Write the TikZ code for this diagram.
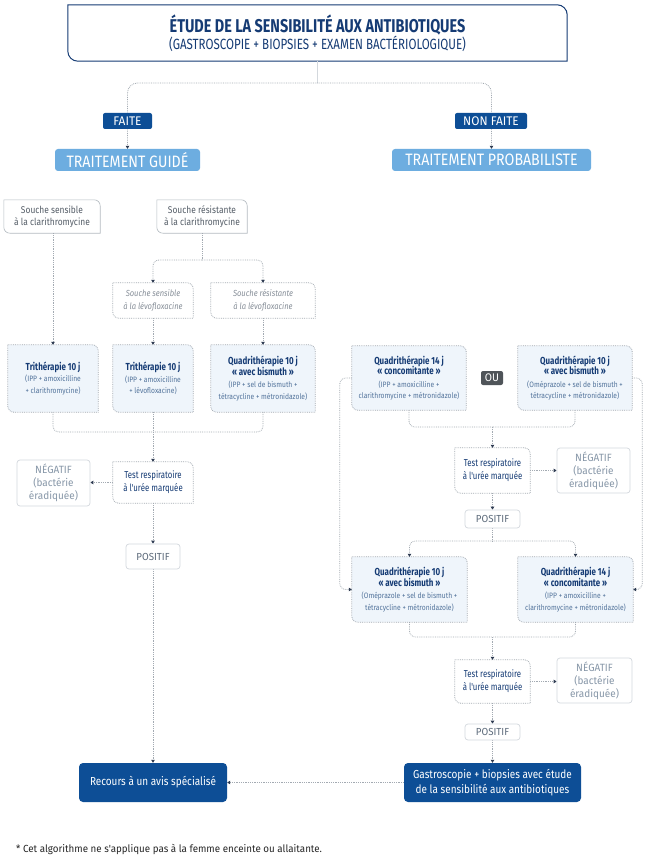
\documentclass[tikz,border=0pt]{standalone}
\usepackage{fontspec}
\setmainfont{Fira Sans}[FakeStretch=0.86]
\newfontfamily\condf{Fira Sans}[FakeStretch=0.78]
\newfontfamily\widef{Fira Sans}[FakeStretch=0.95]
\usetikzlibrary{arrows.meta,calc}
\definecolor{navy}{HTML}{0D4E96}
\definecolor{tblue}{HTML}{153B74}
\definecolor{lblue}{HTML}{6DADE0}
\definecolor{bfill}{HTML}{EFF5FB}
\definecolor{dotg}{HTML}{A3AAB2}
\definecolor{gtext}{HTML}{555E68}
\definecolor{itext}{HTML}{868E98}
\definecolor{dtext}{HTML}{52739B}
\definecolor{ntext}{HTML}{8797A8}
\definecolor{ptext}{HTML}{5D6B7B}
\definecolor{oug}{HTML}{4F5459}
\definecolor{arc}{HTML}{2E3B52}
\definecolor{lgb}{HTML}{D3D8DD}
\pgfdeclarelayer{bg}\pgfdeclarelayer{conn}\pgfsetlayers{bg,conn,main}
\newcommand\bx[7]{\node[#6,minimum width={#3-#2},minimum height={#5-#4}] (#1) at ({(#2+#3)/2},{-(#4+#5)/2}) {#7};}
\newcommand\leaf[3][6pt]{\begin{pgfonlayer}{bg}\path[#3] (#2.north west) -- ([xshift=-#1]#2.north east) arc[start angle=90,end angle=0,radius=#1] -- (#2.south east) -- ([xshift=#1]#2.south west) arc[start angle=270,end angle=180,radius=#1] -- cycle;\end{pgfonlayer}}
\newcommand\thd[1]{{\condf\fontsize{10.2}{11}\selectfont\bfseries\color{tblue}#1}}
\tikzset{
  tb/.style={inner sep=0pt,align=center},
  labbox/.style={tb,fill=navy,text=white,rounded corners=2pt,font=\widef\fontsize{12.5}{14}\selectfont},
  trbox/.style={tb,fill=lblue,text=white,rounded corners=3pt,font=\fontsize{16.5}{18}\selectfont},
  scbox/.style={tb,font=\fontsize{9.8}{11.5}\selectfont,text=gtext},
  slbox/.style={tb,font=\fontsize{8.8}{12.5}\selectfont\itshape,text=itext},
  trtbox/.style={tb,font=\fontsize{7.8}{11.5}\selectfont,text=dtext},
  tstbox/.style={tb,font=\condf\fontsize{10}{13}\selectfont,text=tblue},
  negbox/.style={tb,draw=lgb,line width=0.7pt,rounded corners=3pt,fill=white,text=ntext,font=\widef\fontsize{10.5}{13}\selectfont},
  posbox/.style={tb,draw=lgb,line width=0.7pt,rounded corners=3pt,fill=white,text=ptext,font=\widef\fontsize{10.2}{12}\selectfont},
  dkbox/.style={tb,fill=navy,text=white,rounded corners=4pt,font=\fontsize{11.6}{15}\selectfont},
  oubox/.style={tb,fill=oug,text=white,rounded corners=2pt,font=\widef\fontsize{11}{12}\selectfont},
  solidleaf/.style={draw=dotg!80,line width=0.6pt,fill=white},
  dotleaf/.style={draw=dotg,line width=0.8pt,densely dotted,fill=white},
  trtleaf/.style={draw=dotg,line width=0.8pt,densely dotted,fill=bfill},
  dline/.style={draw=dotg,line width=0.8pt,densely dotted,rounded corners=6pt},
  arline/.style={dline,-{Triangle[length=3pt,width=3.5pt,color=arc]}}
}
\begin{document}
\begin{tikzpicture}[x=1pt,y=1pt]
\useasboundingbox (0,0) rectangle (650,-861);
\begin{pgfonlayer}{bg}\fill[white] (0,0) rectangle (650,-861);\end{pgfonlayer}

% title
\bx{title}{68}{567}{5}{61}{tb}{{\condf\fontsize{18.5}{22}\selectfont\bfseries\color{tblue}ÉTUDE DE LA SENSIBILITÉ AUX ANTIBIOTIQUES}\\{\condf\fontsize{14.8}{22}\selectfont\color{tblue}(GASTROSCOPIE + BIOPSIES + EXAMEN BACTÉRIOLOGIQUE)}}
\leaf[10pt]{title}{draw=tblue,line width=1pt,fill=white}

\bx{faite}{103}{152}{113}{129}{labbox}{FAITE}
\bx{nonfaite}{455}{527}{113}{129}{labbox}{NON FAITE}
\bx{guide}{55}{200}{149}{171}{trbox}{TRAITEMENT GUIDÉ}
\bx{prob}{392}{591}{149}{171}{trbox}{TRAITEMENT PROBABILISTE}

% left branch
\bx{sens}{4}{100}{200}{233}{scbox}{Souche sensible\\à la clarithromycine}
\leaf{sens}{solidleaf}
\bx{res}{157}{247}{200}{233}{scbox}{Souche résistante\\à la clarithromycine}
\leaf{res}{solidleaf}
\bx{slevo}{113}{193}{283}{318}{slbox}{Souche sensible\\à la lévofloxacine}
\leaf{slevo}{dotleaf}
\bx{rlevo}{211}{315}{283}{318}{slbox}{Souche résistante\\à la lévofloxacine}
\leaf{rlevo}{dotleaf}

\bx{tri1}{8}{98}{345}{412}{trtbox}{\thd{Trithérapie 10 j}\\(IPP + amoxicilline\\+ clarithromycine)}
\leaf{tri1}{trtleaf}
\bx{tri2}{113}{193}{345}{412}{trtbox}{\thd{Trithérapie 10 j}\\(IPP + amoxicilline\\+ lévofloxacine)}
\leaf{tri2}{trtleaf}
\bx{quadL}{211}{315}{345}{412}{trtbox}{\thd{Quadrithérapie 10 j}\\[-1pt]\thd{«~avec bismuth~»}\\[1pt](IPP + sel de bismuth +\\tétracycline + métronidazole)}
\leaf{quadL}{trtleaf}

\bx{testL}{113}{193}{462}{503}{tstbox}{Test respiratoire\\à l'urée marquée}
\leaf{testL}{dotleaf}
\bx{negL}{17}{90}{460}{506}{negbox}{NÉGATIF\\(bactérie\\éradiquée)}
\bx{posL}{126}{180}{544}{569}{posbox}{POSITIF}
\bx{recours}{79}{227}{763}{802}{dkbox}{Recours à un avis spécialisé}

% right branch
\bx{q14a}{352}{466}{346}{410}{trtbox}{\thd{Quadrithérapie 14 j}\\[-1pt]\thd{«~concomitante~»}\\[1pt](IPP + amoxicilline +\\clarithromycine + métronidazole)}
\leaf{q14a}{trtleaf}
\bx{ou}{481}{503}{371}{385}{oubox}{OU}
\bx{q10a}{518}{632}{346}{410}{trtbox}{\thd{Quadrithérapie 10 j}\\[-1pt]\thd{«~avec bismuth~»}\\[1pt](Oméprazole + sel de bismuth +\\tétracycline + métronidazole)}
\leaf{q10a}{trtleaf}

\bx{test2}{455}{530}{448}{493}{tstbox}{Test respiratoire\\à l'urée marquée}
\leaf{test2}{dotleaf}
\bx{neg2}{557}{630}{448}{493}{negbox}{NÉGATIF\\(bactérie\\éradiquée)}
\bx{pos2}{465}{520}{510}{528}{posbox}{POSITIF}

\bx{q10b}{352}{467}{557}{622}{trtbox}{\thd{Quadrithérapie 10 j}\\[-1pt]\thd{«~avec bismuth~»}\\[1pt](Oméprazole + sel de bismuth +\\tétracycline + métronidazole)}
\leaf{q10b}{trtleaf}
\bx{q14b}{518}{633}{557}{622}{trtbox}{\thd{Quadrithérapie 14 j}\\[-1pt]\thd{«~concomitante~»}\\[1pt](IPP + amoxicilline +\\clarithromycine + métronidazole)}
\leaf{q14b}{trtleaf}

\bx{test3}{455}{530}{660}{703}{tstbox}{Test respiratoire\\à l'urée marquée}
\leaf{test3}{dotleaf}
\bx{neg3}{557}{632}{658}{703}{negbox}{NÉGATIF\\(bactérie\\éradiquée)}
\bx{pos3}{465}{520}{724}{740}{posbox}{POSITIF}
\bx{gastro}{404}{581}{763}{802}{dkbox}{Gastroscopie + biopsies avec étude\\de la sensibilité aux antibiotiques}

\node[inner sep=0pt,anchor=west,font=\widef\fontsize{10.3}{12}\selectfont,text=black!85] (foot) at (16,-849) {* Cet algorithme ne s'applique pas à la femme enceinte ou allaitante.};

% connectors
\begin{pgfonlayer}{conn}
\draw[draw=lgb,line width=0.8pt] (title.south) -- (title.south |- 0,-83) coordinate (bus);
\draw[arline,rounded corners=10pt] (bus) -| (guide.north);
\draw[arline,rounded corners=10pt] (bus) -| (prob.north);

\draw[arline] (tri1.north |- sens.south) -- (tri1.north);
\draw[dline] (res.south) -- (res.south |- 0,-260) coordinate (rb);
\draw[arline] (rb) -| (slevo.north);
\draw[arline] (rb) -| (rlevo.north);
\draw[arline] (slevo.south) -- (tri2.north);
\draw[arline] (rlevo.south) -- (quadL.north);
\coordinate (jl) at (153,-432);
\draw[dline] (tri1.south) |- (jl);
\draw[dline] (quadL.south) |- (jl);
\draw[arline] (tri2.south) -- (testL.north);
\draw[arline] (testL.west) -- (testL.west -| negL.east);
\draw[arline] (testL.south) -- (posL.north);
\draw[arline] (posL.south) -- (recours.north);
\draw[arline] (gastro.west) -- (recours.east);

\coordinate (jr1) at (492.5,-427);
\draw[dline] (q14a.south) |- (jr1);
\draw[dline] (q10a.south) |- (jr1);
\draw[arline] (jr1) -- (test2.north);
\draw[arline] (test2.east) -- (test2.east -| neg2.west);
\draw[arline] (test2.south) -- (pos2.north);
\draw[dline] (pos2.south) -- (pos2.south |- 0,-541) coordinate (jr2);
\draw[arline] (jr2) -| (q10b.north);
\draw[arline] (jr2) -| (q14b.north);
\draw[arline] (q14a.west) -- ++(-12,0) |- (q10b.west);
\draw[arline] (q10a.east) -- ++(10,0) |- (q14b.east);
\coordinate (jr3) at (492.5,-637);
\draw[dline] (q10b.south) |- (jr3);
\draw[dline] (q14b.south) |- (jr3);
\draw[arline] (jr3) -- (test3.north);
\draw[arline] (test3.east) -- (test3.east -| neg3.west);
\draw[arline] (test3.south) -- (pos3.north);
\draw[arline] (pos3.south) -- (gastro.north);
\end{pgfonlayer}
\end{tikzpicture}
\end{document}
